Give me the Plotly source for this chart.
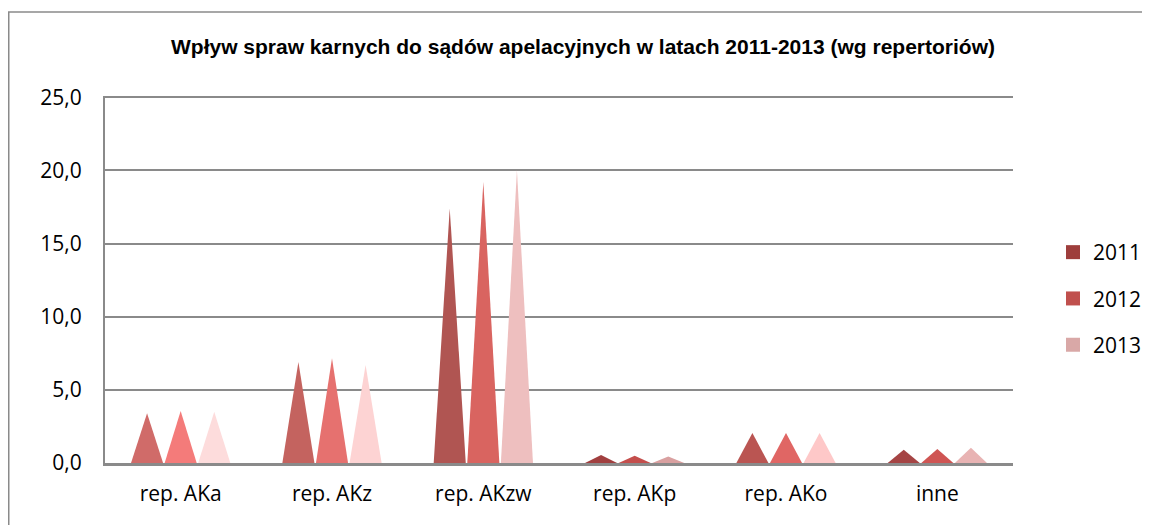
import plotly.graph_objects as go

categories = ["rep. AKa", "rep. AKz", "rep. AKzw", "rep. AKp", "rep. AKo", "inne"]
years = ["2011", "2012", "2013"]
v2011 = [3.4, 6.9, 17.4, 0.55, 2.05, 0.9]
v2012 = [3.55, 7.15, 19.2, 0.5, 2.05, 0.95]
v2013 = [3.5, 6.7, 20.0, 0.45, 2.05, 1.05]
values = [v2011, v2012, v2013]

# styles
legend_colors = ["#9e3e3c", "#c0504d", "#d9a8a7"]
tri_colors = [
    ["#d06b69", "#c4635f", "#b05552", "#a13f3f", "#ba5552", "#a54444"],
    ["#f47b7a", "#e6716f", "#d96460", "#c44e4c", "#e06664", "#cf5553"],
    ["#fddcdc", "#fdd3d3", "#eebfbf", "#d9a0a0", "#fec8c8", "#e8b3b3"],
]
offsets = [-0.222, 0.0, 0.222]
half = 0.106

fig = go.Figure()
for j, yr in enumerate(years):
    for i, cat in enumerate(categories):
        c = i + offsets[j]
        v = values[j][i]
        fig.add_trace(go.Scatter(
            x=[c - half, c, c + half, c - half],
            y=[0, v, 0, 0],
            mode="lines", fill="toself",
            fillcolor=tri_colors[j][i],
            line=dict(width=0, color=tri_colors[j][i]),
            showlegend=False, legendgroup=yr,
            hoveron="fills", name=f"{yr} {cat}: {v}",
        ))
for j, yr in enumerate(years):
    fig.add_trace(go.Scatter(
        x=[None], y=[None], mode="markers", name=yr,
        marker=dict(symbol="square", size=14, color=legend_colors[j]),
        legendgroup=yr, showlegend=True,
    ))

# page body adds an 8px offset; figure sized to fit the window
W, H = 1142, 517
L, R, T, B = 97, 137, 88, 62
pw, ph = W - L - R, H - T - B

def px_x(p):
    return (p - L) / pw

def px_y(p):
    return (H - B - p) / ph

fig.add_shape(type="rect", xref="paper", yref="paper",
              x0=px_x(0.75), x1=px_x(1170), y0=px_y(540), y1=px_y(4),
              line=dict(color="#8a8a8a", width=1.5), layer="below")

fig.update_layout(
    width=W, height=H,
    margin=dict(l=L, r=R, t=T, b=B, autoexpand=False),
    paper_bgcolor="white", plot_bgcolor="white",
    separators=",.",
    font=dict(family="Open Sans, Calibri, sans-serif", size=21, color="#000000"),
    title=dict(
        text="<b>Wpływ spraw karnych do sądów apelacyjnych w latach 2011-2013 (wg repertoriów)</b>",
        font=dict(family="Liberation Sans Narrow, Arial Narrow, Arial, sans-serif", size=21, color="#000000"),
        x=575 / W, xanchor="center", y=1 - 39 / H, yanchor="middle",
    ),
    legend=dict(
        x=px_x(1045), xanchor="left", y=px_y(224), yanchor="top",
        font=dict(size=21), tracegroupgap=16, bgcolor="rgba(0,0,0,0)",
        itemsizing="trace",
    ),
    xaxis=dict(
        range=[-0.5, 5.5], tickmode="array",
        tickvals=list(range(len(categories))), ticktext=categories,
        showgrid=False, zeroline=False, showline=True,
        linecolor="#8a8a8a", linewidth=2.5, ticks="", ticklabelstandoff=10,
        fixedrange=True,
    ),
    yaxis=dict(
        range=[0, 25.08], tickmode="array", tickvals=[0, 5, 10, 15, 20, 25],
        tickformat=".1f", showgrid=True, gridcolor="#8a8a8a", gridwidth=2,
        zeroline=False, showline=True, linecolor="#8a8a8a", linewidth=2,
        ticks="", ticklabelstandoff=17, fixedrange=True,
    ),
)

fig.write_html("out.html")
